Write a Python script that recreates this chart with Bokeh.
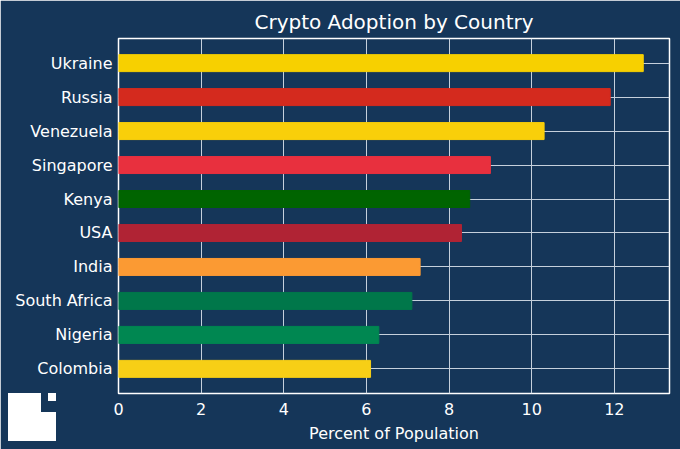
from bokeh.plotting import figure
from bokeh.models import FactorRange, Range1d, FixedTicker, ColumnDataSource, GridBox, Div
from bokeh.embed import file_html
from bokeh.resources import INLINE

countries = ["Ukraine", "Russia", "Venezuela", "Singapore", "Kenya", "USA",
             "India", "South Africa", "Nigeria", "Colombia"]
percent = [12.7, 11.9, 10.3, 9.0, 8.5, 8.3, 7.3, 7.1, 6.3, 6.1]
colors = ["#f7d000", "#d42a1e", "#f9cf0a", "#e8303e", "#006400", "#b02334",
          "#fb9a33", "#00774a", "#008751", "#f7cf16"]
x_ticks = [0, 2, 4, 6, 8, 10, 12]

BG = "#153659"
FONT = "DejaVu Sans"
W, H = 680, 449

src = ColumnDataSource(dict(country=countries, pct=percent, color=colors))

p = figure(width=W, height=H, output_backend="svg", toolbar_location=None,
           y_range=FactorRange(factors=countries[::-1], range_padding=0.045),
           x_range=Range1d(0, max(percent) * 1.05),
           title="Crypto Adoption by Country",
           min_border_left=118, min_border_right=11, min_border_top=38, min_border_bottom=56)

p.background_fill_color = BG
p.border_fill_color = BG
p.outline_line_color = "white"
p.outline_line_width = 1.5

p.title.text_color = "white"
p.title.text_font = FONT
p.title.text_font_size = "20px"
p.title.text_font_style = "normal"
p.title.align = "center"

p.hbar(y="country", right="pct", left=0, height=0.5, fill_color="color",
       line_color="color", line_width=1, source=src)

for ax in (p.xaxis, p.yaxis):
    ax.axis_line_color = None
    ax.major_tick_line_color = None
    ax.minor_tick_line_color = None
    ax.major_tick_out = 0
    ax.major_tick_in = 0
    ax.minor_tick_out = 0
    ax.major_label_text_color = "white"
    ax.major_label_text_font = FONT
    ax.major_label_text_font_size = "16px"

p.xaxis.ticker = FixedTicker(ticks=x_ticks)
p.xaxis.axis_label = "Percent of Population"
p.xaxis.axis_label_text_color = "white"
p.xaxis.axis_label_text_font = FONT
p.xaxis.axis_label_text_font_size = "16px"
p.xaxis.axis_label_text_font_style = "normal"
p.xaxis.major_label_standoff = 9
p.xaxis.axis_label_standoff = 6
p.yaxis.major_label_standoff = 6

p.xgrid.grid_line_color = "#c5d0dc"
p.ygrid.grid_line_color = "#c5d0dc"
p.xgrid.grid_line_width = 1
p.ygrid.grid_line_width = 1

# small logo in the bottom-left corner, overlapping the figure in the same grid cell
logo_svg = ('<svg width="48" height="48" xmlns="http://www.w3.org/2000/svg" style="display:block">'
            '<path d="M0 0H33V19H48V48H0Z" fill="white"/>'
            '<rect x="40" y="0" width="8" height="8" fill="white"/></svg>')
logo = Div(text=logo_svg, width=48, height=48, margin=(393, 0, 0, 8))

layout = GridBox(children=[(p, 0, 0), (logo, 0, 0)])

open("out.html", "w").write(file_html(layout, INLINE))
